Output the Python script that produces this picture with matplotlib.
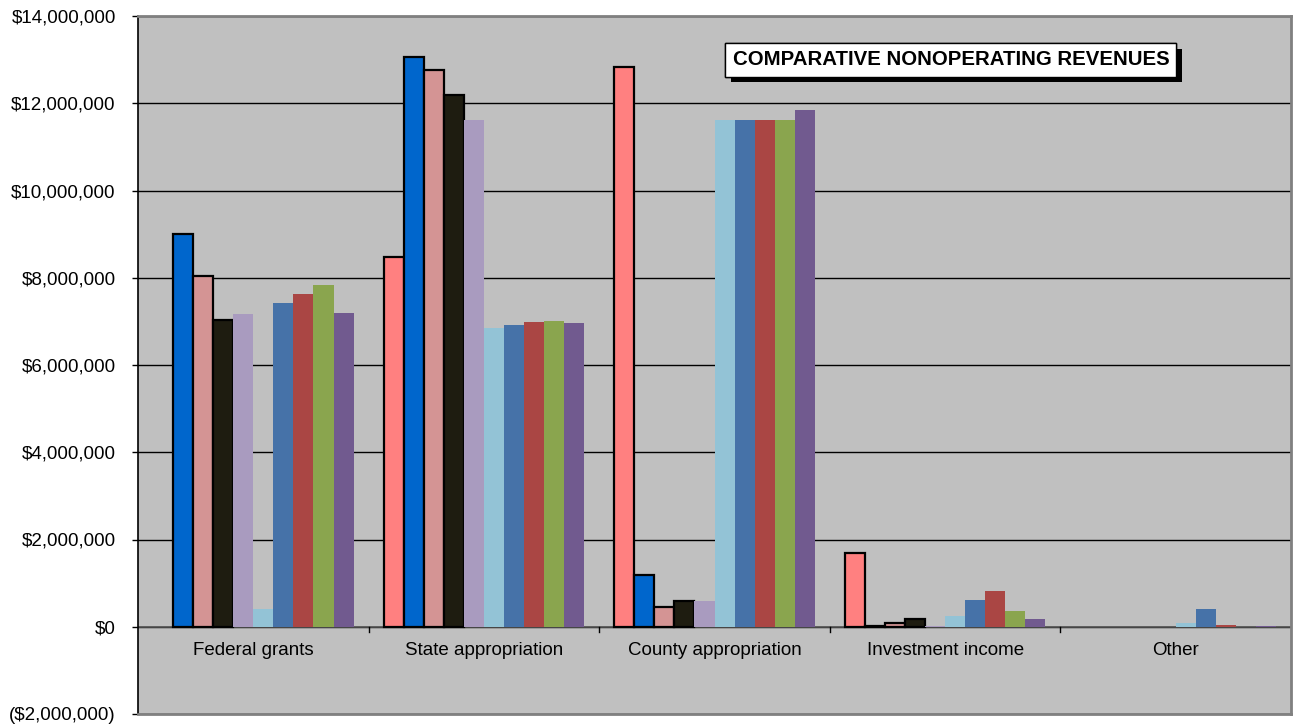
import numpy as np
import matplotlib.pyplot as plt
import matplotlib.patheffects as pe
from matplotlib.ticker import FuncFormatter

plt.rcParams['font.family'] = ['Liberation Sans', 'DejaVu Sans']

categories = ['Federal grants', 'State appropriation', 'County appropriation',
              'Investment income', 'Other']

# one list per year/series, values in dollars, nan = no bar
nan = np.nan
s1 = [nan, 8470000, 12830000, 1680000, nan]
s2 = [9000000, 13050000, 1180000, 20000, nan]
s3 = [8040000, 12770000, 450000, 80000, nan]
s4 = [7030000, 12190000, 590000, 170000, nan]
s5 = [7180000, 11610000, 600000, 15000, nan]
s6 = [410000, 6840000, 11610000, 240000, 80000]
s7 = [7410000, 6910000, 11610000, 610000, 400000]
s8 = [7630000, 6980000, 11610000, 830000, 50000]
s9 = [7840000, 7000000, 11610000, 370000, nan]
s10 = [7190000, 6960000, 11840000, 180000, 10000]

series = [s1, s2, s3, s4, s5, s6, s7, s8, s9, s10]
colors = ['#FF8080', '#0066CC', '#D49494', '#1E1C10', '#A99BBF',
          '#93C3D6', '#4672A8', '#AA4644', '#8AA54E', '#715A8F']
edged = [True, True, True, True, False, False, False, False, False, False]

fig = plt.figure(figsize=(12.94, 7.28), dpi=100)
ax = fig.add_axes([138/1294, 14/728, (1291-138)/1294, (714-16)/728])
ax.set_facecolor('#C0C0C0')

x = np.arange(len(categories))
n = len(series)
w = 0.87 / n
for i, (vals, c, e) in enumerate(zip(series, colors, edged)):
    pos = x - 0.435 + w * (i + 0.5)
    if e:
        ax.bar(pos, vals, w, color=c, edgecolor='black', linewidth=1.6, zorder=3)
    else:
        ax.bar(pos, vals, w, color=c, linewidth=0, zorder=3)

ax.set_xlim(-0.5, len(categories) - 0.5)
ax.set_ylim(-2000000, 14000000)
ax.set_yticks(np.arange(-2000000, 14000001, 2000000))
ax.yaxis.grid(True, color='black', linewidth=1, zorder=1)
ax.set_axisbelow(True)
ax.axhline(0, color='#555555', linewidth=1.2, zorder=2)

def money(v, _):
    if v < 0:
        return '(${:,.0f})'.format(-v)
    return '${:,.0f}'.format(v)

ax.yaxis.set_major_formatter(FuncFormatter(money))
ax.tick_params(axis='y', labelsize=13.5, length=4, width=1, direction='out', pad=12)

# category labels sit under the zero line, not at the bottom spine
ax.set_xticks([])
for i, cat in enumerate(categories):
    ax.text(i, -550000, cat, ha='center', va='center', fontsize=13.5, color='black')
# small tick marks between categories on the zero line
for b in x[:-1] + 0.5:
    ax.plot([b, b], [0, -120000], color='black', linewidth=1, zorder=2)

for side in ['top', 'right', 'bottom']:
    ax.spines[side].set_color('#808080')
    ax.spines[side].set_linewidth(2)
ax.spines['left'].set_color('black')
ax.spines['left'].set_linewidth(1.2)

t = ax.text(0.705, 0.937, 'COMPARATIVE NONOPERATING REVENUES', transform=ax.transAxes,
            ha='center', va='center', fontsize=14.7, fontweight='bold',
            bbox=dict(boxstyle='square,pad=0.35', facecolor='white', edgecolor='black', linewidth=1),
            zorder=5)
t.get_bbox_patch().set_path_effects([pe.withSimplePatchShadow(offset=(4, -4), shadow_rgbFace='black', alpha=1), pe.Normal()])

fig.savefig('out.png', dpi=100)
